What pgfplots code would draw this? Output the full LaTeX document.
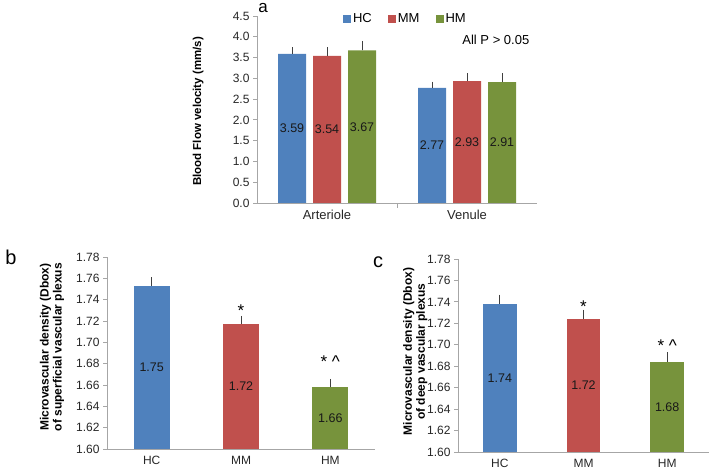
\documentclass[border=0pt]{standalone}
\usepackage{fontspec}
\setmainfont{Liberation Sans}
\usepackage{pgfplots}
\pgfplotsset{compat=1.18}

\definecolor{hc}{HTML}{4F81BD}
\definecolor{mm}{HTML}{C0504D}
\definecolor{hm}{HTML}{77933C}
\definecolor{axgray}{HTML}{A6A6A6}
\definecolor{errgray}{HTML}{404040}

\pgfplotsset{
  panel/.style={
    scale only axis,
    axis x line*=bottom, axis y line*=left,
    axis line style={axgray, line width=0.9pt},
    ytick style={axgray, line width=0.9pt},
    xtick style={draw=none},
    tick align=outside, major tick length=4pt,
    /pgf/number format/assume math mode=true,
    tick label style={text=black!85},
    clip=false,
  },
  bars/.style={
    ybar, bar shift=0, draw=none, fill=#1,
    error bars/y dir=plus, error bars/y explicit,
    error bars/error bar style={errgray, line width=0.7pt},
    error bars/error mark options={errgray, line width=0.7pt, mark size=3pt},
  },
  midlabels/.style={
    nodes near coords={\pgfmathprintnumber[fixed,fixed zerofill,precision=2]{\pgfplotspointmeta}},
    visualization depends on=y \as \rawy,
    every node near coord/.append style={anchor=center, text=black!90,
      font=\fontsize{12.5}{14}\selectfont,
      shift={(axis direction cs:0,{-(\rawy-#1)/2})}},
  },
}

\begin{document}
\begin{tikzpicture}
\useasboundingbox (0,0) rectangle (709pt,471pt);

% panel a
\begin{axis}[panel,
  at={(257pt,268pt)}, anchor=south west,
  width=280pt, height=187pt,
  xmin=-0.5, xmax=1.5, ymin=0, ymax=4.5,
  xtick={0,1}, xticklabels={Arteriole,Venule},
  extra x ticks={0.5}, extra x tick labels={},
  extra x tick style={xtick style={axgray, line width=0.9pt, draw=axgray}, major tick length=5pt},
  ytick distance=0.5,
  yticklabel style={font=\fontsize{12}{14}\selectfont, /pgf/number format/.cd, fixed, fixed zerofill, precision=1},
  xticklabel style={font=\fontsize{13}{15}\selectfont},
  ylabel={\bfseries Blood Flow velocity (mm/s)},
  every axis y label/.style={at={(rel axis cs:-0.21,0.49)}, rotate=90, anchor=center, font=\fontsize{11.5}{13}\selectfont},
  legend style={at={(rel axis cs:0.53,0.985)}, anchor=center, draw=none, fill=none,
    legend columns=3, font=\fontsize{13}{15}\selectfont,
    /tikz/every even column/.append style={column sep=14pt}},
  legend image code/.code={\fill[#1, draw=none] (0pt,-4pt) rectangle (8pt,4pt);},
]
\addplot[bars=hc, bar width=0.2, midlabels=0]
  coordinates {(-0.25,3.59) +- (0,0.08) (0.75,2.77) +- (0,0.08)};
\addplot[bars=mm, bar width=0.2, midlabels=0]
  coordinates {(0,3.54) +- (0,0.13) (1,2.93) +- (0,0.12)};
\addplot[bars=hm, bar width=0.2, midlabels=0]
  coordinates {(0.25,3.67) +- (0,0.16) (1.25,2.91) +- (0,0.14)};
\legend{HC,MM,HM}
\node[anchor=east, font=\fontsize{13}{15}\selectfont] at (rel axis cs:0.985,0.87) {All P > 0.05};
\end{axis}

% panel b
\begin{axis}[panel,
  at={(107pt,22pt)}, anchor=south west,
  width=268pt, height=192pt,
  xmin=-0.5, xmax=2.5, ymin=1.6, ymax=1.78,
  xtick={0,1,2}, xticklabels={HC,MM,HM},
  ytick distance=0.02,
  yticklabel style={font=\fontsize{12}{14}\selectfont, /pgf/number format/.cd, fixed, fixed zerofill, precision=2},
  xticklabel style={font=\fontsize{12}{14}\selectfont},
  ylabel={\bfseries Microvascular density (Dbox)\\\bfseries of superficial vascular plexus},
  every axis y label/.style={at={(rel axis cs:-0.205,0.53)}, rotate=90, anchor=center, align=center, font=\fontsize{12}{13}\selectfont},
]
\addplot[bars=hc, bar width=0.4, midlabels=1.6]
  coordinates {(0,1.753) +- (0,0.005)};
\addplot[bars=mm, bar width=0.4, midlabels=1.6]
  coordinates {(1,1.717) +- (0,0.005)};
\addplot[bars=hm, bar width=0.4, midlabels=1.6]
  coordinates {(2,1.658) +- (0,0.005)};
\node[font=\fontsize{17}{18}\selectfont] at (axis cs:1,1.730) {*};
\node[font=\fontsize{17}{18}\selectfont] at (axis cs:2,1.682) {* \textasciicircum};
\end{axis}

% panel c
\begin{axis}[panel,
  at={(458pt,19pt)}, anchor=south west,
  width=251pt, height=193pt,
  xmin=-0.5, xmax=2.5, ymin=1.6, ymax=1.78,
  xtick={0,1,2}, xticklabels={HC,MM,HM},
  ytick distance=0.02,
  yticklabel style={font=\fontsize{12}{14}\selectfont, /pgf/number format/.cd, fixed, fixed zerofill, precision=2},
  xticklabel style={font=\fontsize{12}{14}\selectfont},
  ylabel={\bfseries Microvascular density (Dbox)\\\bfseries of deep vascular plexus},
  every axis y label/.style={at={(rel axis cs:-0.17,0.52)}, rotate=90, anchor=center, align=center, font=\fontsize{12}{13}\selectfont},
]
\addplot[bars=hc, bar width=0.4, midlabels=1.6]
  coordinates {(0,1.738) +- (0,0.006)};
\addplot[bars=mm, bar width=0.4, midlabels=1.6]
  coordinates {(1,1.724) +- (0,0.006)};
\addplot[bars=hm, bar width=0.4, midlabels=1.6]
  coordinates {(2,1.684) +- (0,0.006)};
\node[font=\fontsize{17}{18}\selectfont] at (axis cs:1,1.736) {*};
\node[font=\fontsize{17}{18}\selectfont] at (axis cs:2,1.699) {* \textasciicircum};
\end{axis}

\node[font=\fontsize{17}{19}\selectfont] at (263pt,463pt) {a};
\node[font=\fontsize{20}{22}\selectfont] at (11pt,214pt) {b};
\node[font=\fontsize{20}{22}\selectfont] at (378pt,209pt) {c};
\end{tikzpicture}
\end{document}
